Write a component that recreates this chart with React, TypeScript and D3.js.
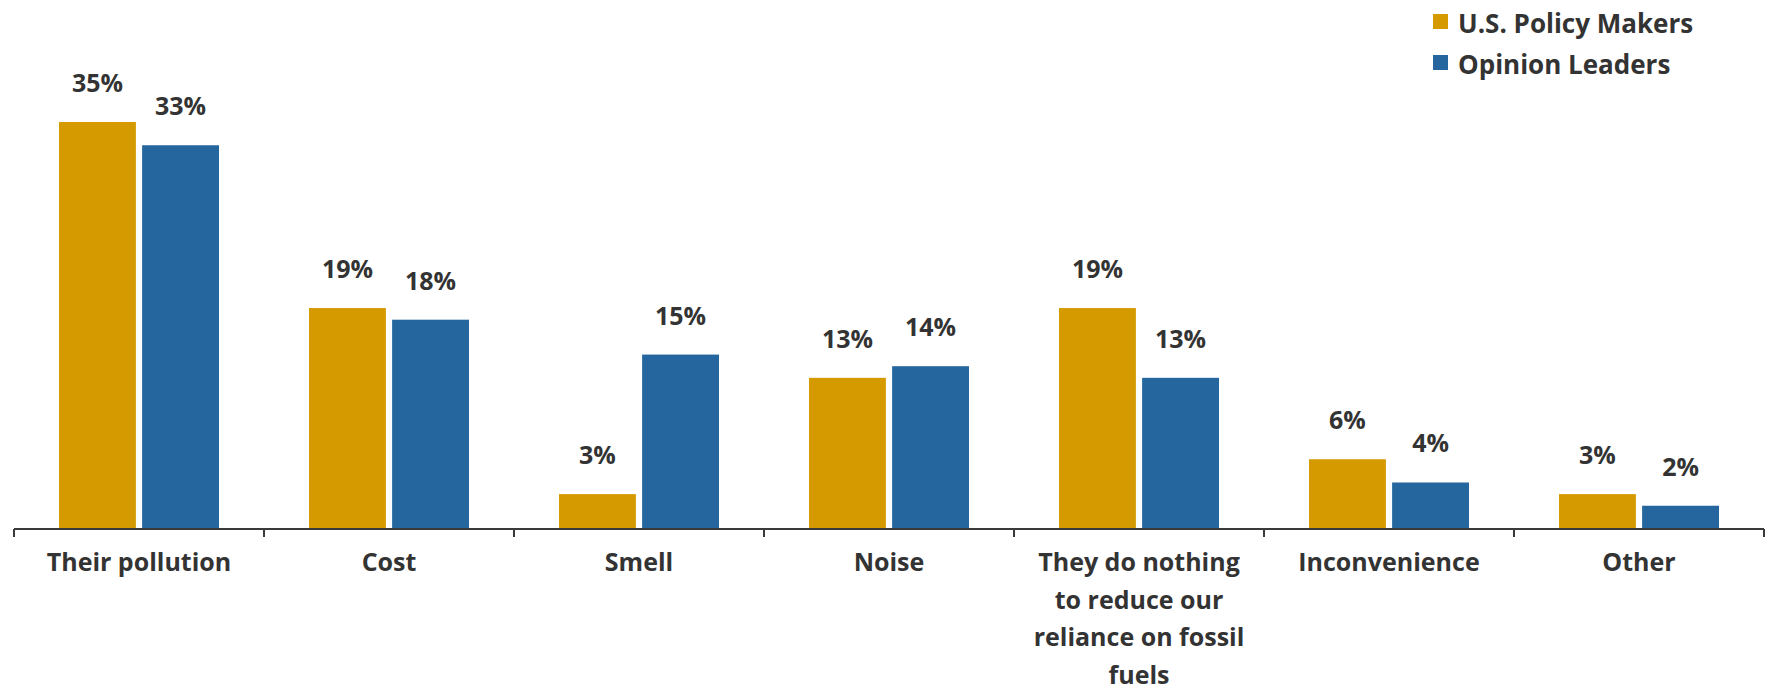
import React from "react";
import * as d3 from "d3";

const categories = [
  "Their pollution",
  "Cost",
  "Smell",
  "Noise",
  "They do nothing to reduce our reliance on fossil fuels",
  "Inconvenience",
  "Other",
];
const tickLabelLines = [
  ["Their pollution"],
  ["Cost"],
  ["Smell"],
  ["Noise"],
  ["They do nothing", "to reduce our", "reliance on fossil", "fuels"],
  ["Inconvenience"],
  ["Other"],
];
const seriesNames = ["U.S. Policy Makers", "Opinion Leaders"];
const policyMakers = [35, 19, 3, 13, 19, 6, 3];
const opinionLeaders = [33, 18, 15, 14, 13, 4, 2];
const colors = ["#D49A00", "#25669E"];

const W = 1771;
const H = 691;
const axisY = 529;
const x0 = 14;
const x1 = 1764;
const FONT = "'Open Sans', sans-serif";
const TEXT = "#333333";

export default function App() {
  const x = d3.scaleBand<string>().domain(categories).range([x0, x1]).paddingInner(0).paddingOuter(0);
  const sub = d3
    .scaleBand<string>()
    .domain(seriesNames)
    .range([45, x.bandwidth() - 45])
    .paddingInner(0.075);
  const y = d3.scaleLinear().domain([0, 35]).range([axisY, axisY - 407]);
  const series = [policyMakers, opinionLeaders];
  const ticks = d3.range(categories.length + 1).map((i) => x0 + i * x.step());

  return (
    <svg width={W} height={H} style={{ position: "absolute", left: 0, top: 0, background: "#fff" }}>
      {series.map((vals, si) =>
        vals.map((v, ci) => {
          const bx = (x(categories[ci]) as number) + (sub(seriesNames[si]) as number);
          const bw = sub.bandwidth();
          return (
            <g key={`${si}-${ci}`}>
              <rect x={bx} y={y(v)} width={bw} height={axisY - y(v)} fill={colors[si]} />
              <text
                x={bx + bw / 2}
                y={y(v) - 30}
                textAnchor="middle"
                fontFamily={FONT}
                fontWeight={700}
                fontSize={25}
                fill={TEXT}
              >
                {v}%
              </text>
            </g>
          );
        })
      )}
      <line x1={x0} x2={x1} y1={axisY} y2={axisY} stroke="#3a3a3a" strokeWidth={2} />
      {ticks.map((t, i) => (
        <line key={i} x1={t} x2={t} y1={axisY} y2={axisY + 8} stroke="#3a3a3a" strokeWidth={2} />
      ))}
      {tickLabelLines.map((lines, ci) => (
        <text
          key={ci}
          textAnchor="middle"
          fontFamily={FONT}
          fontWeight={700}
          fontSize={25}
          fill={TEXT}
        >
          {lines.map((l, li) => (
            <tspan key={li} x={(x(categories[ci]) as number) + x.bandwidth() / 2} y={571 + li * 37.5}>
              {l}
            </tspan>
          ))}
        </text>
      ))}
      {seriesNames.map((name, si) => (
        <g key={name}>
          <rect x={1433} y={14 + si * 41} width={15} height={15} fill={colors[si]} />
          <text x={1458} y={33 + si * 41} fontFamily={FONT} fontWeight={700} fontSize={26} fill={TEXT}>
            {name}
          </text>
        </g>
      ))}
    </svg>
  );
}
